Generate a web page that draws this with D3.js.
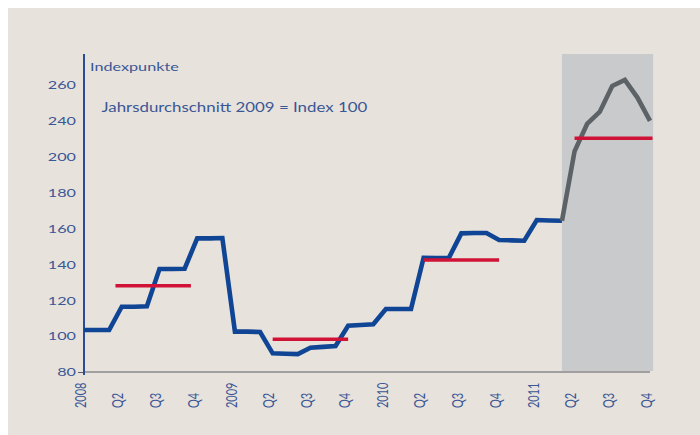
<!DOCTYPE html>
<html><head><meta charset="utf-8">
<script src="https://cdn.jsdelivr.net/npm/d3@7"></script>
<style>
html,body{margin:0;padding:0;background:#ffffff;}
svg{display:block;}
</style></head>
<body>
<svg id="c" width="700" height="435"></svg>
<script>
// ---- data ----
// monthly index values, Jan 2008 (month 0) to Oct 2011 (month 45)
const blueMonths = d3.range(0, 39);
const blueValues = [103.4,103.4,103.4, 116.4,116.4,116.6, 137.4,137.4,137.6, 154.5,154.5,154.7,
                    102.5,102.5,102.3, 90.4,90.2,90.0, 93.5,94.0,94.5, 105.8,106.2,106.6,
                    115.1,115.1,115.1, 143.7,143.5,143.5, 157.3,157.5,157.5, 153.6,153.4,153.2,
                    164.7,164.5,164.3];
const greyMonths = d3.range(38, 46);
const greyValues = [164.3, 203.0, 218.3, 225.0, 239.5, 242.8, 233.0, 220.0];
// annual averages: start month, end month, value
const avgYears = ["2008","2009","2010","2011"];
const avgStart = [2.5, 15, 27, 39];
const avgEnd   = [8.5, 21, 33, 45.2];
const avgValue = [128.1, 98.2, 142.4, 210.3];
// x tick labels (one per quarter)
const xTickMonths = d3.range(0, 46, 3);
const xTickLabels = ["2008","Q2","Q3","Q4","2009","Q2","Q3","Q4","2010","Q2","Q3","Q4","2011","Q2","Q3","Q4"];
// y ticks (labels as printed)
const yTickValues = [80,100,120,140,160,180,200,220,240];
const yTickLabels = ["80","100","120","140","160","180","200","240","260"];
const shadeRange = [38, 45.25];
const yTitle = "Indexpunkte";
const note = "Jahrsdurchschnitt 2009 = Index 100";

// ---- drawing ----
const svg = d3.select("#c");
const W = 700, H = 435;
svg.append("rect").attr("x",8).attr("y",8).attr("width",W-8).attr("height",H-8).attr("fill","#e8e2dc");

const x = d3.scaleLinear().domain([0,45]).range([84,650]);
const y = d3.scaleLinear().domain([80,240]).range([372,85]);
const plotTop = 54;
const font = "Lato, 'Open Sans', sans-serif";
const textCol = "#3a5796";
const SX = 1.35; // horizontal stretch of the original typography

// shaded forecast area
svg.append("rect")
  .attr("x", x(shadeRange[0])).attr("y", plotTop)
  .attr("width", x(shadeRange[1]) - x(shadeRange[0]))
  .attr("height", y(80) - plotTop - 1)
  .attr("fill", "#c9cacc");

// x axis line
svg.append("line").attr("x1", x(0)).attr("x2", x(45)).attr("y1", y(80)).attr("y2", y(80))
  .attr("stroke","#5a5d63").attr("stroke-width",1.2);

// y axis
const yAxis = d3.axisLeft(y).tickValues(yTickValues)
  .tickFormat((d,i)=>yTickLabels[i]).tickSize(6).tickSizeOuter(0).tickPadding(2);
const gy = svg.append("g").attr("transform","translate(84,0)").call(yAxis);
gy.select(".domain").remove();
gy.selectAll(".tick line").attr("stroke","#5a5d63").attr("stroke-width",1)
  .filter(d=>d!==80).remove();
gy.selectAll(".tick text")
  .attr("x", null)
  .attr("transform", `translate(-8,0) scale(${SX},1)`)
  .attr("fill",textCol).style("font-family",font).style("font-size","12px");
svg.append("line").attr("x1",84).attr("x2",84).attr("y1",plotTop).attr("y2",375)
  .attr("stroke","#2a4a9a").attr("stroke-width",2);

// x tick labels (rotated)
svg.append("g").selectAll("text").data(xTickMonths).join("text")
  .attr("transform",(d)=>`translate(${x(d)-3.5},408) scale(${SX},1) rotate(-90)`)
  .attr("dy","0.35em")
  .attr("text-anchor","start")
  .attr("fill",textCol).style("font-family",font).style("font-size","11px")
  .text((d,i)=>xTickLabels[i]);

// titles
svg.append("text").attr("transform",`translate(90,70.5) scale(${SX},1)`).attr("fill",textCol)
  .style("font-family",font).style("font-size","12px").text(yTitle);
svg.append("text").attr("transform",`translate(101.5,112) scale(${SX},1)`).attr("fill",textCol)
  .style("font-family",font).style("font-size","12.5px").text(note);

// lines
const line = d3.line().x(d=>x(d[0])).y(d=>y(d[1])).curve(d3.curveLinear);
svg.append("path").datum(blueMonths.map((m,i)=>[m,blueValues[i]]))
  .attr("d",line).attr("fill","none").attr("stroke","#0f4594").attr("stroke-width",4.6)
  .attr("stroke-linejoin","miter");
svg.append("path").datum(greyMonths.map((m,i)=>[m,greyValues[i]]))
  .attr("d",line).attr("fill","none").attr("stroke","#5d6266").attr("stroke-width",4.6)
  .attr("stroke-linejoin","miter");

// annual averages
svg.append("g").selectAll("line").data(avgYears).join("line")
  .attr("x1",(d,i)=>x(avgStart[i])).attr("x2",(d,i)=>x(avgEnd[i]))
  .attr("y1",(d,i)=>y(avgValue[i])).attr("y2",(d,i)=>y(avgValue[i]))
  .attr("stroke","#d01236").attr("stroke-width",3.5);
</script>
</body></html>
